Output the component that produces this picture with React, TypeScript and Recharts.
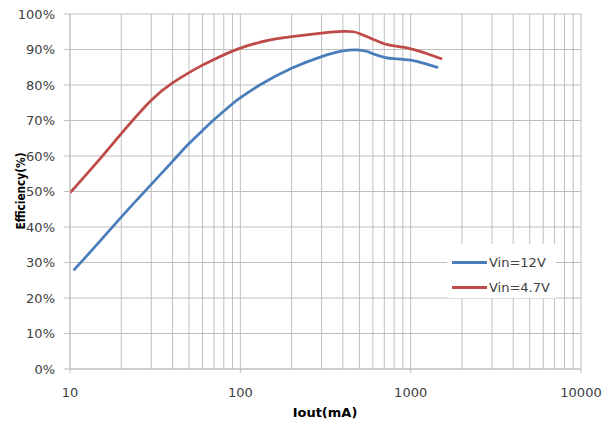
import { CartesianGrid, Legend, Line, LineChart, XAxis, YAxis } from "recharts";

// Vin = 12V
const ioutVin12 = [10.5, 15, 20, 30, 40, 50, 60, 70, 90, 100, 130, 200, 300, 400, 480, 550, 600, 700, 800, 1000, 1200, 1450];
const effVin12 = [27.8, 36.0, 42.8, 52.0, 58.5, 63.5, 67.2, 70.2, 74.7, 76.4, 80, 84.7, 88, 89.6, 89.9, 89.5, 88.8, 87.8, 87.4, 87, 86.1, 84.9];

// Vin = 4.7V
const ioutVin47 = [10, 15, 20, 30, 40, 50, 60, 70, 100, 150, 200, 300, 400, 460, 500, 600, 700, 800, 1000, 1250, 1530];
const effVin47 = [49.6, 59.2, 66.3, 75.7, 80.6, 83.5, 85.6, 87.2, 90.4, 92.7, 93.6, 94.6, 95.1, 95, 94.5, 92.9, 91.6, 91, 90.2, 88.8, 87.3];

const majorTicks = [10, 100, 1000, 10000];
const gridTicks = [
  10, 20, 30, 40, 50, 60, 70, 80, 90,
  100, 200, 300, 400, 500, 600, 700, 800, 900,
  1000, 2000, 3000, 4000, 5000, 6000, 7000, 8000, 9000,
  10000,
];
const yTicks = [0, 10, 20, 30, 40, 50, 60, 70, 80, 90, 100];

const seriesVin12 = ioutVin12.map((iout, i) => ({ iout, eff: effVin12[i] }));
const seriesVin47 = ioutVin47.map((iout, i) => ({ iout, eff: effVin47[i] }));

const FONT = "'DejaVu Sans', Verdana, sans-serif";
const GRID = "#bfbfbf";
const TICK_TEXT = "#404040";

function XTick(props: any) {
  const { x, y, payload } = props;
  if (!majorTicks.includes(payload.value)) return <g />;
  return (
    <g>
      <line x1={x} x2={x} y1={y} y2={y + 4} stroke={GRID} />
      <text x={x} y={y + 23} textAnchor="middle" dominantBaseline="central" fill={TICK_TEXT} fontSize={13} fontFamily={FONT}>
        {payload.value}
      </text>
    </g>
  );
}

function LegendBox(props: any) {
  const items = props.payload || [];
  return (
    <div style={{ background: "#fff", width: 109, height: 54, fontFamily: FONT, fontSize: 13, color: TICK_TEXT, paddingTop: 6, boxSizing: "border-box" }}>
      {items.map((it: any) => (
        <div key={it.value} style={{ display: "flex", alignItems: "center", height: 25 }}>
          <div style={{ width: 35, height: 3, background: it.color, marginLeft: 5, marginRight: 2 }} />
          <span>{it.value}</span>
        </div>
      ))}
    </div>
  );
}

export default function App() {
  return (
    <div style={{ position: "absolute", left: 0, top: 0, width: 612, height: 426, background: "#fff" }}>
      <LineChart width={612} height={426} margin={{ top: 14, right: 31, bottom: 0, left: 0 }} style={{ fontFamily: FONT }}>
        <CartesianGrid stroke={GRID} />
        <XAxis
          dataKey="iout"
          type="number"
          scale="log"
          domain={[10, 10000]}
          ticks={gridTicks}
          interval={0}
          tickSize={0}
          tickMargin={0}
          tickLine={false}
          tick={<XTick />}
          stroke={GRID}
          height={57}
          allowDataOverflow
          label={{
            content: () => (
              <text x={325} y={412} textAnchor="middle" dominantBaseline="central" fontSize={13} fontWeight="bold" fontFamily={FONT} fill="#000">
                Iout(mA)
              </text>
            ),
          }}
        />
        <YAxis
          type="number"
          domain={[0, 100]}
          ticks={yTicks}
          interval={0}
          width={70}
          tickSize={6}
          tickMargin={9}
          stroke={GRID}
          tickFormatter={(v) => `${v}%`}
          tick={{ fill: TICK_TEXT, fontSize: 13, fontFamily: FONT }}
          label={{
            content: () => (
              <text
                x={20}
                y={191}
                transform="rotate(-90 20 191)"
                textAnchor="middle"
                dominantBaseline="central"
                fontSize={13}
                fontWeight="bold"
                fontFamily={FONT}
                fill="#000"
                textLength={77}
                lengthAdjust="spacingAndGlyphs"
              >
                Efficiency(%)
              </text>
            ),
          }}
        />
        <Legend
          layout="vertical"
          align="center"
          verticalAlign="middle"
          content={<LegendBox />}
          wrapperStyle={{ left: 447, top: 244, width: 109, height: 54 }}
        />
        <Line
          data={seriesVin12}
          dataKey="eff"
          name="Vin=12V"
          type="natural"
          stroke="#4a7ebb"
          strokeWidth={2.75}
          dot={false}
          isAnimationActive={false}
        />
        <Line
          data={seriesVin47}
          dataKey="eff"
          name="Vin=4.7V"
          type="natural"
          stroke="#be4b48"
          strokeWidth={2.75}
          dot={false}
          isAnimationActive={false}
        />
      </LineChart>
    </div>
  );
}
